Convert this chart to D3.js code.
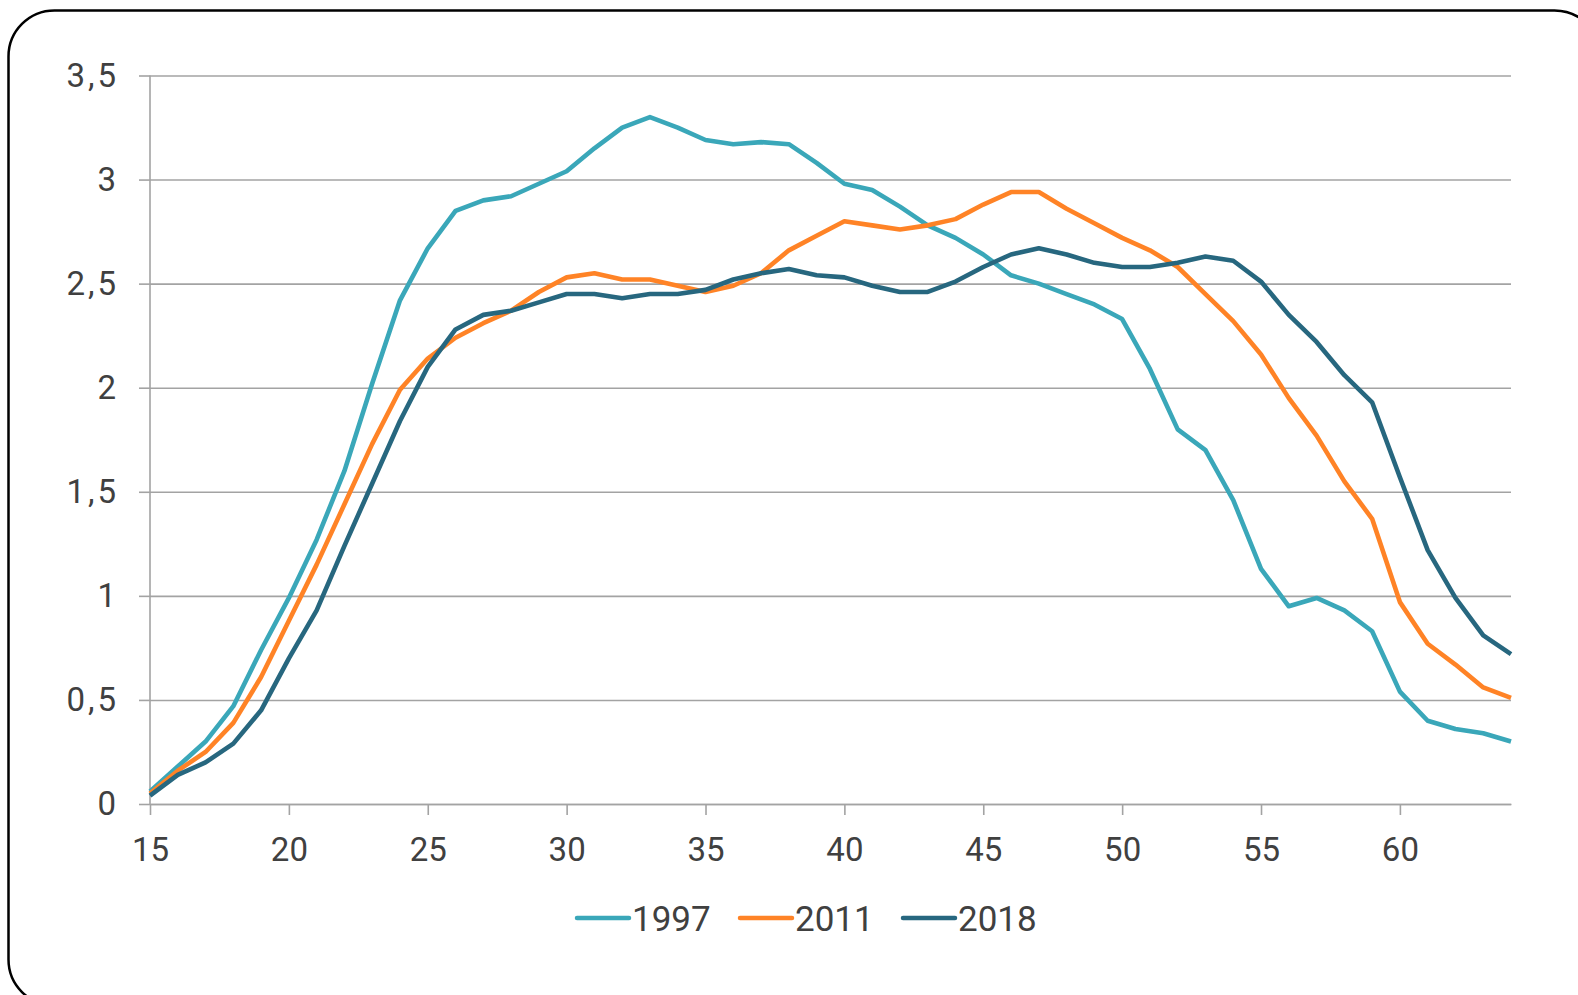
<!DOCTYPE html>
<html>
<head>
<meta charset="utf-8">
<script src="https://cdn.jsdelivr.net/npm/d3@7"></script>
<style>
  body { margin: 0; background: #fff; }
  svg text { font-family: "Roboto", "Liberation Sans", sans-serif; font-weight: 400; fill: #404040; }
</style>
</head>
<body>
<div id="chart"></div>
<script>
// ages on the x axis
var ages = [15, 16, 17, 18, 19, 20, 21, 22, 23, 24, 25, 26, 27, 28, 29, 30, 31, 32, 33, 34,
  35, 36, 37, 38, 39, 40, 41, 42, 43, 44, 45, 46, 47, 48, 49, 50, 51, 52, 53, 54,
  55, 56, 57, 58, 59, 60, 61, 62, 63, 64];

// series values
var values1997 = [0.06, 0.18, 0.30, 0.47, 0.74, 0.99, 1.27, 1.60, 2.02, 2.42,
  2.67, 2.85, 2.90, 2.92, 2.98, 3.04, 3.15, 3.25, 3.30, 3.25,
  3.19, 3.17, 3.18, 3.17, 3.08, 2.98, 2.95, 2.87, 2.78, 2.72,
  2.64, 2.54, 2.50, 2.45, 2.40, 2.33, 2.09, 1.80, 1.70, 1.46,
  1.13, 0.95, 0.99, 0.93, 0.83, 0.54, 0.40, 0.36, 0.34, 0.30];

var values2011 = [0.05, 0.16, 0.25, 0.39, 0.61, 0.88, 1.15, 1.44, 1.73, 1.99,
  2.14, 2.24, 2.31, 2.37, 2.46, 2.53, 2.55, 2.52, 2.52, 2.49,
  2.46, 2.49, 2.55, 2.66, 2.73, 2.80, 2.78, 2.76, 2.78, 2.81,
  2.88, 2.94, 2.94, 2.86, 2.79, 2.72, 2.66, 2.58, 2.45, 2.32,
  2.16, 1.95, 1.77, 1.55, 1.37, 0.97, 0.77, 0.67, 0.56, 0.51];

var values2018 = [0.04, 0.14, 0.20, 0.29, 0.45, 0.70, 0.93, 1.24, 1.54, 1.84,
  2.10, 2.28, 2.35, 2.37, 2.41, 2.45, 2.45, 2.43, 2.45, 2.45,
  2.47, 2.52, 2.55, 2.57, 2.54, 2.53, 2.49, 2.46, 2.46, 2.51,
  2.58, 2.64, 2.67, 2.64, 2.60, 2.58, 2.58, 2.60, 2.63, 2.61,
  2.51, 2.35, 2.22, 2.06, 1.93, 1.57, 1.22, 0.99, 0.81, 0.72];

// tick labels
var xTicks = [15, 20, 25, 30, 35, 40, 45, 50, 55, 60];
var yTicks = [0, 0.5, 1, 1.5, 2, 2.5, 3, 3.5];

var seriesNames = ['1997', '2011', '2018'];
var seriesColors = ['#3aa7b9', '#ff8326', '#27677f'];

var svgWidth = 1578;
var svgHeight = 995;

var svg = d3.select('#chart')
  .append('svg')
  .attr('width', svgWidth)
  .attr('height', svgHeight);

// rounded frame
svg.append('rect')
  .attr('x', 8.5)
  .attr('y', 10.5)
  .attr('width', 1592)
  .attr('height', 995)
  .attr('rx', 46)
  .attr('ry', 46)
  .attr('fill', '#fff')
  .attr('stroke', '#000')
  .attr('stroke-width', 2.5);

// scales
var x = d3.scaleLinear()
  .domain([15, 64])
  .range([150, 1511]);

var y = d3.scaleLinear()
  .domain([0, 3.5])
  .range([804, 75.5]);

var gridColor = '#a3a3a3';

// gridlines with y tick marks
var yAxis = svg.append('g')
  .attr('transform', 'translate(150, 0)')
  .call(d3.axisLeft(y)
    .tickValues(yTicks)
    .tickSize(11)
    .tickPadding(21)
    .tickFormat(d => String(d).replace('.', ',')));

yAxis.select('.domain').remove();
yAxis.selectAll('.tick line')
  .attr('stroke', gridColor)
  .attr('stroke-width', 1.6);
yAxis.selectAll('.tick')
  .append('line')
  .attr('x1', 0)
  .attr('x2', x(64) - 150)
  .attr('stroke', gridColor)
  .attr('stroke-width', 1.6);
yAxis.selectAll('.tick text')
  .attr('font-size', 33)
  .attr('font-family', null)
  .attr('x', d => d % 1 ? -31 : -34)
  .attr('letter-spacing', d => d % 1 ? 3 : 0);

// x axis
var xAxis = svg.append('g')
  .attr('transform', 'translate(0, 804)')
  .call(d3.axisBottom(x)
    .tickValues(xTicks)
    .tickSize(11)
    .tickSizeOuter(0)
    .tickPadding(23));

xAxis.select('.domain')
  .attr('stroke', gridColor)
  .attr('stroke-width', 1.6);
xAxis.selectAll('.tick line')
  .attr('stroke', gridColor)
  .attr('stroke-width', 1.6);
xAxis.selectAll('.tick text')
  .attr('font-size', 33)
  .attr('font-family', null);

// vertical axis line
svg.append('line')
  .attr('x1', 150)
  .attr('x2', 150)
  .attr('y1', y(3.5))
  .attr('y2', y(0))
  .attr('stroke', gridColor)
  .attr('stroke-width', 1.6);

// lines
var allSeries = [values1997, values2011, values2018];

var line = d3.line()
  .x((d, i) => x(ages[i]))
  .y(d => y(d));

svg.selectAll('.series')
  .data(allSeries)
  .enter()
  .append('path')
  .classed('series', true)
  .attr('d', d => line(d))
  .attr('fill', 'none')
  .attr('stroke', (d, i) => seriesColors[i])
  .attr('stroke-width', 4.6)
  .attr('stroke-linejoin', 'round');

// legend
var legendX = [577, 740, 903];

var legend = svg.selectAll('.legend')
  .data(seriesNames)
  .enter()
  .append('g')
  .classed('legend', true)
  .attr('transform', (d, i) => `translate(${legendX[i]}, 918)`);

legend.append('line')
  .attr('x1', 0)
  .attr('x2', 52)
  .attr('stroke', (d, i) => seriesColors[i])
  .attr('stroke-width', 4.5)
  .attr('stroke-linecap', 'round');

legend.append('text')
  .attr('x', 55)
  .attr('y', 12.5)
  .attr('font-size', 35)
  .text(d => d);
</script>
</body>
</html>
